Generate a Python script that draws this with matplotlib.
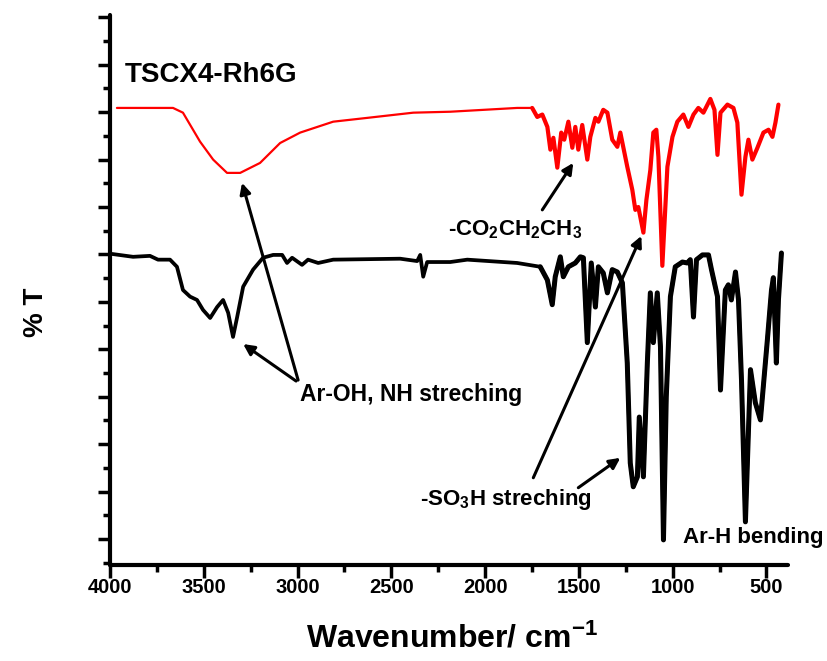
import matplotlib
matplotlib.use('Agg')
import matplotlib.pyplot as plt
from matplotlib.ticker import MultipleLocator, NullFormatter
import numpy as np

# FTIR spectra (wavenumber in cm-1, %T in offset units)
red_wn = [3963, 3664, 3611, 3520, 3450, 3376, 3306, 3200, 3093, 2986,
          2810, 2629, 2383, 2186, 1829, 1749, 1722, 1695, 1668, 1652,
          1636, 1615, 1594, 1578, 1556, 1535, 1519, 1503, 1482, 1455,
          1439, 1412, 1396, 1370, 1348, 1322, 1295, 1279, 1242, 1215,
          1199, 1183, 1156, 1140, 1119, 1103, 1087, 1076, 1055, 1028,
          1001, 975, 943, 916, 889, 863, 836, 799, 777, 761,
          745, 708, 676, 655, 633, 612, 596, 575, 548, 516,
          489, 468, 452, 436]
red_t = [9.09, 9.09, 8.99, 8.38, 8.00, 7.72, 7.72, 7.93, 8.35, 8.57,
         8.80, 8.88, 8.99, 9.01, 9.09, 9.09, 8.90, 8.95, 8.69, 8.21,
         8.46, 7.83, 8.57, 8.42, 8.80, 8.25, 8.69, 8.21, 8.73, 8.00,
         8.48, 8.88, 8.80, 9.05, 8.99, 8.42, 8.27, 8.57, 7.85, 7.36,
         6.94, 7.00, 6.46, 7.15, 7.78, 8.57, 8.63, 8.06, 5.76, 7.85,
         8.48, 8.80, 8.95, 8.69, 8.95, 9.09, 8.99, 9.28, 9.05, 8.10,
         8.99, 9.16, 9.09, 8.78, 7.26, 8.06, 8.42, 8.00, 8.25, 8.57,
         8.63, 8.48, 8.78, 9.16]

blk_wn = [3989, 3877, 3787, 3744, 3680, 3643, 3611, 3573, 3536, 3504,
          3466, 3429, 3397, 3370, 3344, 3322, 3290, 3237, 3184, 3130,
          3082, 3056, 3029, 2976, 2944, 2890, 2810, 2453, 2362, 2346,
          2330, 2309, 2186, 2095, 1829, 1706, 1668, 1642, 1626, 1599,
          1583, 1556, 1519, 1492, 1476, 1455, 1434, 1412, 1396, 1370,
          1348, 1322, 1295, 1268, 1242, 1226, 1210, 1188, 1178, 1156,
          1135, 1119, 1103, 1082, 1065, 1049, 1034, 1012, 986, 948,
          922, 906, 889, 873, 841, 809, 793, 761, 745, 719,
          703, 687, 665, 649, 633, 612, 585, 559, 532, 495,
          473, 463, 447, 436, 420]
blk_t = [6.01, 5.95, 5.97, 5.89, 5.89, 5.74, 5.25, 5.11, 5.04, 4.83,
         4.66, 4.89, 5.04, 4.77, 4.26, 4.68, 5.32, 5.68, 5.93, 5.99,
         5.99, 5.82, 5.93, 5.78, 5.89, 5.82, 5.89, 5.91, 5.86, 5.99,
         5.53, 5.84, 5.84, 5.89, 5.82, 5.74, 5.46, 4.94, 5.53, 5.95,
         5.53, 5.74, 5.82, 5.95, 5.93, 4.14, 5.82, 4.89, 5.74, 5.61,
         5.19, 5.68, 5.63, 5.40, 3.71, 1.60, 1.10, 1.31, 2.57, 1.31,
         3.71, 5.19, 4.14, 5.19, 4.05, -0.02, 3.00, 5.11, 5.74, 5.84,
         5.82, 5.89, 4.68, 5.89, 5.99, 5.99, 5.68, 5.11, 3.14, 5.25,
         5.36, 5.04, 5.63, 5.04, 3.35, 0.36, 3.57, 2.87, 2.51, 4.20,
         5.25, 5.51, 3.71, 5.04, 6.03]

x_ticks = [4000, 3500, 3000, 2500, 2000, 1500, 1000, 500]

plt.rcParams['font.family'] = ['Liberation Sans', 'DejaVu Sans']
plt.rcParams['font.weight'] = 'bold'
plt.rcParams['mathtext.fontset'] = 'custom'
plt.rcParams['mathtext.rm'] = 'Liberation Sans:bold'
plt.rcParams['mathtext.it'] = 'Liberation Sans:bold'
plt.rcParams['mathtext.bf'] = 'Liberation Sans:bold'
plt.rcParams['mathtext.default'] = 'rm'

fig = plt.figure(figsize=(8.27, 6.61), dpi=100)
ax = fig.add_axes([110 / 827, 1 - 565 / 661, 678 / 827, 550 / 661])

red_wn = np.array(red_wn); red_t = np.array(red_t)
blk_wn = np.array(blk_wn); blk_t = np.array(blk_t)

kw = dict(solid_joinstyle='round', solid_capstyle='round')
ax.plot(red_wn, red_t, color='#ff0000', lw=1.6, **kw)
m = red_wn <= 1760
ax.plot(red_wn[m], red_t[m], color='#ff0000', lw=3.0, **kw)
ax.plot(blk_wn, blk_t, color='black', lw=2.7, **kw)
m = blk_wn <= 1720
ax.plot(blk_wn[m], blk_t[m], color='black', lw=3.6, **kw)

ax.set_xlim(4000, 385)
ax.set_ylim(-0.55, 11.05)
ax.set_xticks(x_ticks)
ax.xaxis.set_minor_locator(MultipleLocator(250))
ax.yaxis.set_major_locator(MultipleLocator(1))
ax.yaxis.set_minor_locator(MultipleLocator(0.5))
ax.yaxis.set_major_formatter(NullFormatter())
ax.tick_params(which='major', length=9, width=2.5, direction='out')
ax.tick_params(which='minor', length=5, width=2.5, direction='out')
ax.tick_params(axis='x', labelsize=14.5, pad=0.5)
for lab in ax.get_xticklabels():
    lab.set_fontweight('bold')

for s in ['top', 'right']:
    ax.spines[s].set_visible(False)
for s in ['left', 'bottom']:
    ax.spines[s].set_linewidth(3)
    ax.spines[s].set_capstyle('round')

fig.text(452 / 827, 1 - 647 / 661, 'Wavenumber/ cm$^{-1}$', fontsize=23,
         fontweight='bold', ha='center', va='baseline')
fig.text(36 / 827, 1 - 312 / 661, '% T', fontsize=20, fontweight='bold',
         rotation=90, ha='center', va='center')

ax.text(3920, 9.79, 'TSCX4-Rh6G', fontsize=20, fontweight='bold',
        ha='left', va='center')
ax.text(2197, 6.41, '-CO$_2$CH$_2$CH$_3$', fontsize=16, fontweight='bold',
        ha='left', va='baseline')
ax.text(2986, 3.04, 'Ar-OH, NH streching', fontsize=16.5, fontweight='bold',
        ha='left', va='center')
ax.text(2346, 0.72, '-SO$_3$H streching', fontsize=16, fontweight='bold',
        ha='left', va='baseline')
ax.text(943, 0.04, 'Ar-H bending', fontsize=16, fontweight='bold',
        ha='left', va='center')

arrow = dict(arrowstyle='-|>', color='black', lw=2.2, mutation_scale=16,
             shrinkA=0, shrinkB=0)
# -CO2CH2CH3
ax.annotate('', xy=(1530, 7.93), xytext=(1695, 6.94), arrowprops=arrow)
# Ar-OH, NH
ax.annotate('', xy=(3296, 7.51), xytext=(2997, 3.35), arrowprops=arrow)
ax.annotate('', xy=(3290, 4.11), xytext=(3008, 3.33), arrowprops=arrow)
# -SO3H
ax.annotate('', xy=(1167, 6.39), xytext=(1743, 1.29), arrowprops=arrow)
ax.annotate('', xy=(1279, 1.71), xytext=(1503, 1.08), arrowprops=arrow)

fig.savefig('out.png', dpi=100)
